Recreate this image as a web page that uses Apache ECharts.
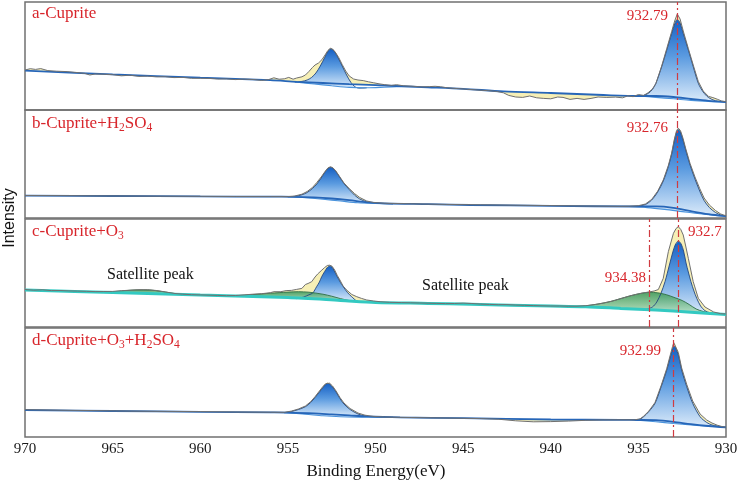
<!DOCTYPE html>
<html>
<head>
<meta charset="utf-8">
<script src="https://cdn.jsdelivr.net/npm/echarts@6/dist/echarts.min.js"></script>
<style>html,body{margin:0;padding:0;background:#fff}#c{width:738px;height:484px}</style>
</head>
<body>
<div id="c"></div>
<script>
// ---- Data (binding energy eV, intensity in arbitrary units) ----
const xTicks = [970, 965, 960, 955, 950, 945, 940, 935, 930];

// Panel a - Cuprite
const aBg = [[970,39.3],[965,35.6],[960,32.3],[956,29.8],[954.5,28.2],[953,27],[951.5,25.8],[950,24.8],[947,22.7],[945,21.2],[942.7,18.6],[940,17],[937,15],[935,14],[934,14],[933,13],[932,11],[931,9.2],[930,8]];
const aP1Base = [[954.6,28],[953.5,26],[952.5,24.2],[951.5,22.6],[950.5,22.2],[949.5,22.8],[948.5,23.6]];
const aP1 = [[954.6,28],[954.2,28.6],[953.9,30],[953.65,32.5],[953.4,37],[953.15,44],[952.9,52.5],[952.72,58.5],[952.58,61],[952.45,60.5],[952.3,57.5],[952.1,51],[951.9,44],[951.65,35],[951.4,27.5],[951.15,23],[950.9,21.8],[950.5,22.2]];
const aP2Base = [[935,14],[934,12.6],[933,11.2],[932,9.6],[931,8.6],[930,8]];
const aP2 = [[935,14],[934.7,14.6],[934.43,16.7],[934.2,20.5],[934.0,26.7],[933.67,43.3],[933.38,60],[933.1,76.7],[932.93,86],[932.78,90.7],[932.62,87],[932.44,76.7],[932.15,60],[931.87,43.3],[931.58,26.7],[931.3,18],[931.0,12.5],[930.6,9.2],[930.3,8.3],[930,8]];
const aRaw = [[970,40],[969.7,41.3],[969.4,40.6],[969.1,41.4],[968.7,39.4],[968.2,38.8],[967.6,38.4],[967.1,37.6],[966.6,36.6],[966.3,35],[966,36],[965.5,35.8],[965,35.3],[964.5,34.2],[964,34.8],[963.5,33.6],[963,33.9],[962.5,33.1],[962,33.3],[961.5,32.4],[961,32.6],[960.5,31.7],[960,31.7],[959.5,31.6],[959,30.9],[958.5,31.1],[958,30.4],[957.5,30.9],[957,30.5],[956.5,29.6],[956.1,30.4],[955.8,32.2],[955.5,30.8],[955.2,31.2],[954.95,32.6],[954.7,30.8],[954.5,32],[954.2,33.2],[954.0,35],[953.8,38.5],[953.6,42.5],[953.45,45],[953.25,47],[953.05,50.5],[952.88,55],[952.72,59.5],[952.58,61.7],[952.45,61],[952.3,58],[952.1,52.5],[951.9,45.5],[951.7,39],[951.5,34],[951.25,31],[951.0,30],[950.7,29.4],[950.4,28.2],[950.1,27.2],[949.8,26.2],[949.5,25.4],[949.1,24.6],[948.8,25.3],[948.4,24.2],[947.9,23.8],[947.4,23.1],[946.9,23.4],[946.6,23.7],[946.3,23.3],[945.9,22.2],[945.3,21.4],[944.8,20.8],[944.2,20],[943.6,19.4],[943.1,18.6],[942.7,17.2],[942.4,14.6],[942.0,13],[941.6,12.6],[941.2,14],[940.8,12.2],[940.4,11.6],[940.0,11.2],[939.6,13],[939.3,12.6],[938.9,10.6],[938.5,11.6],[938.1,10.6],[937.7,11.6],[937.3,13],[936.8,12.6],[936.3,12.9],[935.9,12.2],[935.6,14.2],[935.3,13.3],[935.0,15.5],[934.7,14.6],[934.45,17.2],[934.2,21],[934.0,26.5],[933.67,44],[933.38,61.5],[933.1,78.5],[932.93,89],[932.78,96],[932.62,91],[932.44,79],[932.15,61.5],[931.87,45],[931.58,28.5],[931.3,19],[931.0,13.6],[930.75,12.4],[930.5,10.8],[930.25,9],[930,8.2]];

// Panel b - Cuprite+H2SO4
const bBg = [[970,22.3],[965,22],[960,21.6],[956,21.3],[954.7,21.2],[953.5,20.6],[952.5,19.5],[951.5,17.8],[950.5,15.6],[949.5,14.6],[947,13.8],[944.6,13],[940,12.2],[935,11.5],[934,11.6],[933,10.2],[932,6.8],[931,3.8],[930,1.8]];
const bP1Base = [[955,21.2],[954,20.3],[953,18.8],[952,17],[951,15.2],[950,14.5],[949,14.2]];
const bP1 = [[955,21.2],[954.6,21.7],[954.2,23.2],[953.9,25.5],[953.6,29.5],[953.35,34],[953.1,40],[952.9,45.5],[952.72,49.5],[952.58,50.7],[952.45,50],[952.28,47],[952.05,41],[951.8,34.5],[951.5,28.5],[951.2,23],[950.9,19],[950.5,16.2],[950.1,15],[949.5,14.4],[949,14.2]];
const bP2Base = [[935.5,11.5],[934.5,10.4],[933.5,8.6],[932.5,6.4],[931.5,4.2],[930.5,2.4],[930,1.8]];
const bP2 = [[935.5,11.5],[935,11.9],[934.6,13.5],[934.24,18],[933.9,26],[933.58,37],[933.29,51.5],[933.1,64],[932.95,77],[932.82,86],[932.72,88.3],[932.6,86],[932.45,78],[932.3,68],[932.05,53],[931.77,39],[931.5,27],[931.25,17.5],[930.95,10.5],[930.6,5.5],[930.3,3],[930,1.8]];
const bRaw = [[970,22.5],[968,22.4],[966,22.1],[964,22],[962,21.8],[960,21.7],[958,21.5],[956,21.4],[955,21.4],[954.6,22],[954.2,23.8],[953.9,26.5],[953.6,30.5],[953.35,35.5],[953.1,41],[952.9,46],[952.72,50],[952.58,51.2],[952.45,50.5],[952.28,47.5],[952.05,41.5],[951.8,35],[951.5,29.5],[951.2,24.5],[950.9,20.5],[950.5,17],[950.1,15.5],[949.5,14.8],[948,14.2],[946,13.6],[944,13.2],[942,12.8],[940,12.4],[938,12],[936,11.7],[935.5,11.8],[935,12.3],[934.6,14],[934.24,18.6],[933.9,26.8],[933.58,38],[933.29,52.5],[933.1,65],[932.95,78.5],[932.82,87.5],[932.72,89.8],[932.6,87.5],[932.45,79.5],[932.3,69.5],[932.05,54.5],[931.77,41],[931.5,29.5],[931.25,20],[930.95,13],[930.6,7.5],[930.3,4],[930,2.2]];

// Panel c - Cuprite+O3
const cBg = [[970,37],[965,34.5],[960,32],[955,29.4],[952,26.6],[950,24.6],[947,23.6],[944.6,22.7],[940,21],[938,20.2],[936,18.6],[934,17],[932,14.8],[930,12.5]];
const cSat0 = [[966,35.1],[965,35.3],[964.3,36.3],[963.6,37.1],[962.9,37],[962.2,35.5],[961.5,33.6],[961,32.5]];
const cSat1 = [[958.8,31],[958,31.3],[957,32.4],[956,33.8],[955,34.9],[954.4,35.3],[953.8,34.8],[953,32.8],[952.5,30.8],[952,28.4],[951.5,26.5],[951,25.3],[950.5,24.9]];
const cSat2 = [[938.6,20.6],[938,21.2],[937.3,23],[936.6,25.5],[936,28.5],[935.4,31.5],[934.9,33.5],[934.4,34.7],[933.9,34.2],[933.4,32.3],[932.9,29.2],[932.5,26.5],[932.1,22.5],[931.7,18],[931.3,15.5],[930.9,14],[930.5,13.2],[930.2,12.7]];
const cP1 = [[954.5,28.3],[954.1,30],[953.8,32.2],[953.58,34],[953.36,40.3],[953.2,45],[953.07,50.3],[952.9,55.5],[952.75,59.5],[952.63,61],[952.5,60.3],[952.35,56],[952.18,50.3],[952.0,44.5],[951.84,40.3],[951.6,34.5],[951.36,30.3],[951.07,26],[950.8,25],[950.5,24.8]];
const cP2 = [[934.6,17.4],[934.2,20],[933.95,25],[933.71,33.7],[933.48,45.3],[933.23,62],[933.05,74],[932.9,82],[932.72,86],[932.56,83],[932.42,76],[932.28,64],[932.15,55],[932.0,45.3],[931.83,36],[931.67,28.7],[931.45,21],[931.2,16.3],[930.9,14.2],[930.5,13.2],[930.2,12.7]];
const cRaw = [[970,37.5],[969.5,36.8],[969,37.2],[968.5,36.4],[968,36.5],[967.5,36.1],[967,35.9],[966.5,35.7],[966,35.4],[965.5,35.5],[965,35.6],[964.5,36.3],[964,36.8],[963.5,37.3],[963,37.3],[962.5,36.5],[962,35.1],[961.5,33.6],[961,32.8],[960.5,32.3],[960,32.1],[959.5,31.8],[959,31.6],[958.5,31.3],[958,31.5],[957.5,32.1],[957,32.8],[956.5,33.3],[956,34.3],[955.8,35.3],[955.4,35.3],[955.1,36.4],[954.8,36.6],[954.5,37.6],[954.2,38.6],[954.0,42.5],[953.85,43.5],[953.64,45.3],[953.45,50],[953.3,53],[953.1,56.3],[952.9,59.5],[952.75,61.5],[952.62,61.8],[952.48,60.8],[952.33,57],[952.18,51.5],[952.03,47],[951.85,41],[951.65,37],[951.35,32.5],[951.07,30.3],[950.8,28.6],[950.5,27],[950.1,26],[949.74,25.3],[949.2,24.7],[948.5,24.4],[948,24.2],[947.5,24],[947,23.8],[946.5,23.6],[946,23.4],[945.5,23.5],[945,23.9],[944.5,23.5],[944,22.9],[943.5,22.6],[943,22.3],[942.5,22.4],[942,21.9],[941.5,21.7],[941,21.4],[940.5,21.2],[940,21],[939.5,21],[939,20.8],[938.5,20.8],[938,21.3],[937.5,22.4],[937,23.9],[936.5,25.8],[936,28.4],[935.5,31],[935,33.1],[934.7,34.2],[934.4,35],[934.1,36],[933.86,37.5],[933.58,48.7],[933.29,75.3],[933.0,93.7],[932.85,98.5],[932.72,100.3],[932.58,97.5],[932.44,92],[932.3,81],[932.15,68.7],[931.87,45.3],[931.58,28.7],[931.2,20],[930.7,15],[930.3,13.3],[930,13]];

// Panel d - Cuprite+O3+H2SO4
const dBg = [[970,27],[965,26],[960,25.2],[956,24.6],[955,24.4],[953.5,23.6],[952.5,22.6],[951.5,21.6],[950.5,20.6],[948.6,19.7],[945,18.8],[940,17.5],[936,17.1],[935,17],[934,16.8],[933,15.2],[932,12.8],[931,11],[930,9.7]];
const dP1Base = [[955.2,24.3],[954,22.8],[953,21.2],[952,20.2],[951,19.8],[950,19.7],[949,19.6]];
const dP1 = [[955.2,24.3],[954.8,25.5],[954.4,27.5],[954.0,30.3],[953.7,34.5],[953.45,39.5],[953.2,45],[953.0,49.5],[952.85,52.5],[952.75,53.7],[952.62,53],[952.45,50],[952.25,45],[952.03,38.5],[951.8,33],[951.45,27.5],[951.0,23],[950.6,21],[950.1,20],[949.5,19.7],[949,19.6]];
const dP2Base = [[935.2,17],[934,15.2],[933,13.5],[932,12],[931,10.8],[930,9.7]];
const dP2 = [[935.2,17],[934.9,17.8],[934.7,20.3],[934.4,25.5],[934.05,33.7],[933.7,50.3],[933.38,67],[933.18,80],[933.05,88],[932.98,91],[932.88,89.5],[932.72,82],[932.53,67],[932.24,50.3],[931.9,33.7],[931.48,20.3],[931.1,14.5],[930.8,12],[930.5,10.8],[930.2,10],[930,9.7]];
const dRaw = [[970,27.3],[968,26.8],[966,26.4],[964,25.9],[962,25.6],[960,25.4],[958,25],[956,24.8],[955.2,24.7],[954.8,25.9],[954.4,28],[954.0,31],[953.7,35.3],[953.45,40.3],[953.2,46],[953.0,50.5],[952.85,53.3],[952.75,54.5],[952.62,53.8],[952.45,51],[952.25,46],[952.03,39.5],[951.8,34],[951.45,28.5],[951.0,24],[950.6,21.8],[950.1,20.6],[949.5,20],[948,19.5],[946,19],[944,18.4],[943,17.8],[942,16.2],[941,15.2],[940,15.4],[939,15.9],[938,16.7],[937,17.1],[936,17.2],[935.2,17.2],[934.9,18.2],[934.7,20.8],[934.4,26],[934.05,34.5],[933.7,51.5],[933.38,68.5],[933.18,82],[933.05,90.5],[932.98,94.3],[932.88,92.5],[932.72,84.5],[932.53,69],[932.24,52.5],[931.9,36],[931.48,23],[931.1,17],[930.8,14],[930.5,11.8],[930.2,10.3],[930,9.8]];

const peakMarks = [[932.79],[932.76],[932.7, 934.38],[932.99]];

// ---- Chart ----
const SERIF = '"Liberation Serif","Times New Roman",serif';
const SANS = '"Liberation Sans",Arial,sans-serif';
const RED = '#d8262c';
const grids = [{top:2,height:108},{top:110,height:108},{top:219,height:108},{top:328,height:109}];

const panels = [
  {bg:aBg, raw:aRaw, peaks:[[aP1,aP1Base],[aP2,aP2Base]], sats:[], bgColor:'#2766b8', bgWidth:1.8},
  {bg:bBg, raw:bRaw, peaks:[[bP1,bP1Base],[bP2,bP2Base]], sats:[], bgColor:'#2766b8', bgWidth:1.8},
  {bg:cBg, raw:cRaw, peaks:[[cP1,cBg],[cP2,cBg]], sats:[cSat0,cSat1,cSat2], bgColor:'#33c9c1', bgWidth:3},
  {bg:dBg, raw:dRaw, peaks:[[dP1,dP1Base],[dP2,dP2Base]], sats:[], bgColor:'#2766b8', bgWidth:1.8}
];

function blueFill(){ return new echarts.graphic.LinearGradient(0,0,0,1,[{offset:0,color:'#145fc4'},{offset:0.45,color:'#5b9be0'},{offset:1,color:'#dcebfa'}]); }
function greenFill(){ return new echarts.graphic.LinearGradient(0,0,0,1,[{offset:0,color:'#3f9a5e'},{offset:1,color:'#b9e2c6'}]); }

function fillSeries(gi, upper, lower, fillFn, opacity){
  const lo = Math.min(upper[0][0], upper[upper.length-1][0]);
  const hi = Math.max(upper[0][0], upper[upper.length-1][0]);
  const low = lower.filter(p => p[0] > lo && p[0] < hi);
  const ring = upper.concat(low.slice().reverse());
  return {
    type:'custom', xAxisIndex:gi, yAxisIndex:gi, silent:true, clip:true,
    data:[ring[0]],
    renderItem:function(params, api){
      return {type:'polygon', shape:{points: ring.map(p => api.coord(p))}, style:{fill: fillFn(), opacity: opacity}};
    }
  };
}
function lineSeries(gi, data, color, width, smooth, extra){
  return Object.assign({type:'line', xAxisIndex:gi, yAxisIndex:gi, data:data, showSymbol:false, symbol:'none', silent:true,
    smooth:smooth, lineStyle:{color:color, width:width}}, extra||{});
}

const xAxes = [], yAxes = [], series = [];
panels.forEach((p, gi) => {
  xAxes.push({gridIndex:gi, type:'value', min:930, max:970, interval:5, inverse:true,
    axisLine:{show:false}, axisTick:{show:false}, splitLine:{show:false},
    axisLabel:{show: gi===3, fontFamily:SERIF, fontSize:15, color:'#1a1a1a', margin:5,
      formatter: v => xTicks.indexOf(v) >= 0 ? String(v) : ''}});
  yAxes.push({gridIndex:gi, type:'value', min:0, max:grids[gi].height, show:false});
  series.push(fillSeries(gi, p.raw, p.bg, () => '#f6efb6', 1));
  p.peaks.forEach(pk => series.push(fillSeries(gi, pk[0], pk[1], blueFill, 1)));
  p.peaks.forEach(pk => series.push(lineSeries(gi, pk[0], '#23457e', 0.9, 0.3)));
  p.sats.forEach(s => series.push(fillSeries(gi, s, p.bg, greenFill, 0.9)));
  p.sats.forEach(s => series.push(lineSeries(gi, s, '#2f6e45', 0.9, 0.3)));
  p.peaks.forEach(pk => { if (pk[1] !== p.bg) series.push(lineSeries(gi, pk[1], '#4a93dc', 1.1, 0.3)); });
  series.push(lineSeries(gi, p.bg, p.bgColor, p.bgWidth, 0.3, {
    markLine:{silent:true, symbol:['none','none'], label:{show:false}, animation:false,
      lineStyle:{color:'#cf3b41', width:1.2, type:[7,3,2,3]},
      data: peakMarks[gi].map(v => ({xAxis:v}))}
  }));
  series.push(lineSeries(gi, p.raw, '#707070', 1, false));
});

function richLabel(parts){ return parts.map(t => t[1] ? '{s|'+t[0]+'}' : '{m|'+t[0]+'}').join(''); }
const rich = {m:{fontSize:17, fontFamily:SERIF, fill:RED, lineHeight:20}, s:{fontSize:11.5, fontFamily:SERIF, fill:RED, lineHeight:12, verticalAlign:'bottom'}};
function panelText(y, parts){ return {type:'text', x:32, y:y, style:{text:richLabel(parts), rich:rich, verticalAlign:'middle', align:'left'}}; }
function peakText(x, y, t, align){ return {type:'text', x:x, y:y, style:{text:t, font:'15px '+SERIF, fill:RED, align:align, verticalAlign:'middle'}}; }

const chart = echarts.init(document.getElementById('c'), null, {renderer:'canvas'});
chart.setOption({
  animation:false,
  backgroundColor:'#ffffff',
  grid: grids.map(g => ({left:25, right:12, top:g.top, height:g.height, show:true, borderColor:'#707070', borderWidth:1.5, backgroundColor:'transparent', containLabel:false, outerBoundsMode:'none'})),
  xAxis:xAxes, yAxis:yAxes, series:series,
  graphic:[
    panelText(14, [['a-Cuprite']]),
    panelText(124, [['b-Cuprite+H'],['2',1],['SO'],['4',1]]),
    panelText(232, [['c-Cuprite+O'],['3',1]]),
    panelText(341, [['d-Cuprite+O'],['3',1],['+H'],['2',1],['SO'],['4',1]]),
    peakText(668, 16, '932.79', 'right'),
    peakText(668, 128, '932.76', 'right'),
    peakText(688, 232, '932.7', 'left'),
    peakText(646, 278, '934.38', 'right'),
    peakText(661, 351, '932.99', 'right'),
    {type:'text', x:107, y:275, style:{text:'Satellite peak', font:'16px '+SERIF, fill:'#111', verticalAlign:'middle'}},
    {type:'text', x:422, y:286, style:{text:'Satellite peak', font:'16px '+SERIF, fill:'#111', verticalAlign:'middle'}},
    {type:'text', x:10, y:218, rotation:Math.PI/2, style:{text:'Intensity', font:'16px '+SANS, fill:'#111', align:'center', verticalAlign:'middle'}},
    {type:'text', x:376, y:472, style:{text:'Binding Energy(eV)', font:'17px '+SERIF, fill:'#111', align:'center', verticalAlign:'middle'}}
  ]
});
</script>
</body>
</html>
